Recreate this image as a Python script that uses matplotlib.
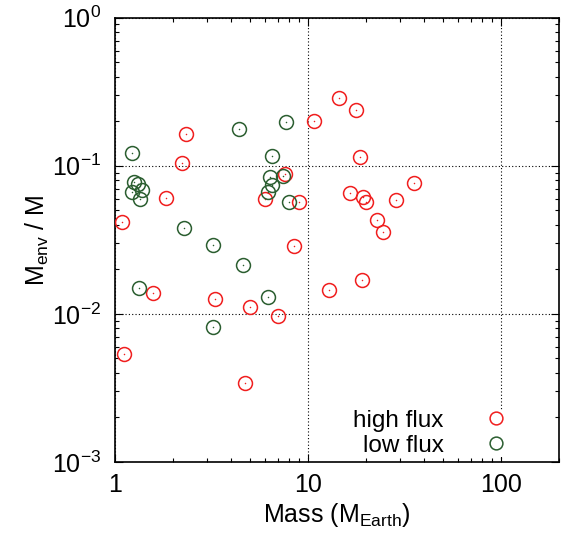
import matplotlib
matplotlib.use("Agg")
import matplotlib.pyplot as plt
import matplotlib.ticker as ticker
import numpy as np

plt.rcParams.update({
    "font.family": "Liberation Sans",
    "mathtext.fontset": "custom",
    "mathtext.rm": "Liberation Sans",
    "mathtext.it": "Liberation Sans",
    "mathtext.default": "regular",
    "font.size": 18,
})

# ── Data ──────────────────────────────────────────────────────────────────────
high_mass = [14.5, 10.7, 2.34, 2.22, 7.64, 1.83, 6.02, 9.03, 1.09, 8.45,
             17.8, 18.6, 35.4, 16.6, 19.4, 19.9, 28.5, 22.9, 24.6, 1.57,
             3.29, 12.9, 4.99, 7.03, 1.11, 4.69, 19.1]
high_menv = [0.288, 0.201, 0.164, 0.105, 0.0874, 0.0602, 0.0599, 0.0572, 0.0419, 0.0289,
             0.237, 0.115, 0.076, 0.0655, 0.0615, 0.0569, 0.059, 0.0432, 0.0359, 0.0138,
             0.0126, 0.0146, 0.0112, 0.00974, 0.00532, 0.00344, 0.0170]

low_mass = [1.22, 4.38, 7.67, 6.51, 6.34, 7.40, 6.51, 6.21, 7.97, 1.26,
            1.32, 1.38, 1.22, 1.34, 2.27, 3.23, 4.59, 1.33, 6.19, 3.23]
low_menv = [0.122, 0.176, 0.199, 0.116, 0.0839, 0.0857, 0.0737, 0.0661, 0.0574, 0.0776,
            0.0756, 0.0689, 0.0665, 0.0599, 0.0380, 0.0293, 0.0214, 0.0150, 0.0131, 0.00812]

RED = "#f01e1e"
GREEN = "#2b5e30"

fig = plt.figure(figsize=(5.68, 5.41), dpi=100)
ax = fig.add_axes([115 / 568, 1 - 462 / 541, 444 / 568, 444.3 / 541])

for xs, ys, c, lab in [(high_mass, high_menv, RED, "high flux"),
                       (low_mass, low_menv, GREEN, "low flux")]:
    ax.plot(xs, ys, ls="none", marker="o", ms=10, mfc="none", mec=c,
            mew=1.1, label=lab, zorder=3)
    ax.plot(xs, ys, ls="none", marker="o", ms=1.1, mfc=c, mec="none", zorder=3)

ax.set_xscale("log")
ax.set_yscale("log")
ax.set_xlim(1, 200)
ax.set_ylim(1e-3, 1)

ax.xaxis.set_major_locator(ticker.FixedLocator([1, 10, 100]))
ax.xaxis.set_major_formatter(ticker.FixedFormatter(["1", "10", "100"]))
ax.xaxis.set_minor_locator(ticker.LogLocator(base=10, subs=np.arange(2, 10)))
ax.xaxis.set_minor_formatter(ticker.NullFormatter())
ax.yaxis.set_major_locator(ticker.LogLocator(base=10, numticks=10))
ax.yaxis.set_minor_locator(ticker.LogLocator(base=10, subs=np.arange(2, 10), numticks=10))
ax.yaxis.set_minor_formatter(ticker.NullFormatter())

ax.tick_params(which="both", direction="in", top=True, right=True, width=0.8)
ax.tick_params(which="major", length=6)
ax.tick_params(which="minor", length=3)
ax.tick_params(axis="x", which="major", pad=8)
ax.tick_params(axis="y", which="major", pad=10)
for s in ax.spines.values():
    s.set_linewidth(1.2)

ax.grid(True, which="major", color="black", ls=(0, (1, 2)), lw=0.8)

ax.set_xlabel(r"Mass (M$_{\mathrm{Earth}}$)", labelpad=3)
ax.set_ylabel(r"M$_{\mathrm{env}}$ / M", labelpad=1)

leg = ax.legend(loc="lower right", markerfirst=False, frameon=True,
                facecolor="white", edgecolor="none", framealpha=1,
                fancybox=False, handlelength=1.6, handletextpad=1.35,
                labelspacing=0.12, borderpad=0.0, borderaxespad=0.0,
                bbox_to_anchor=(0.9015, 0.0115), markerscale=0.92,
                fontsize=17.5)

fig.savefig("out.png", dpi=100)
